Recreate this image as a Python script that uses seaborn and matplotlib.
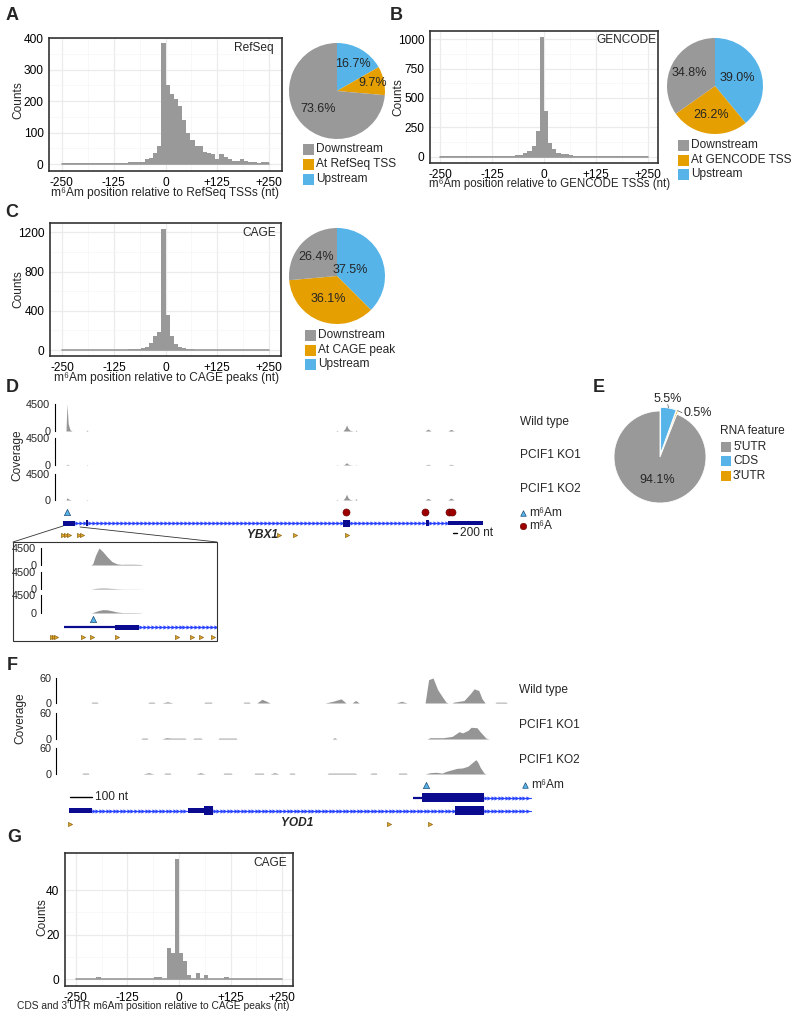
import numpy as np
import pandas as pd
import matplotlib
matplotlib.use('Agg')
import matplotlib.pyplot as plt
from matplotlib.patches import Rectangle
import seaborn as sns

sns.set_style('white')
plt.rcParams['font.family'] = ['Liberation Sans', 'DejaVu Sans']

# ---------------- data ----------------
bin_edges = np.arange(-250, 251, 10)
bin_mid = bin_edges[:-1] + 5

refseq_counts = [2, 2, 3, 3, 4, 3, 3, 4, 4, 3, 3, 4, 4, 5,
                 4, 5, 8, 6, 6, 8, 15, 19, 36, 58, 384,
                 251, 223, 206, 185, 140, 98, 76, 57, 56, 39, 36, 32, 15, 31,
                 21, 17, 11, 11, 15, 9, 6, 8, 4, 6, 6]
gencode_counts = [3, 3, 4, 4, 4, 5, 4, 4, 4, 4, 5, 5, 5, 6, 6, 7, 8, 9,
                  11, 17, 28, 48, 94, 219, 1023,
                  389, 119, 65, 28, 26, 20, 11, 8, 7, 6,
                  5, 5, 4, 4, 4, 4, 3, 3, 3, 3, 3, 3, 3, 3, 3]
cage_counts = [3, 3, 3, 4, 4, 4, 4, 4, 4, 5, 4, 4, 5, 5, 5, 5, 6, 6, 7,
               17, 34, 68, 143, 187, 1231,
               357, 140, 61, 34, 17, 10, 8,
               5, 5, 5, 5, 4, 4, 4, 4, 4, 4, 4, 4, 4, 4, 4, 4, 4, 4]
cds_utr_counts = [0, 0, 0, 0, 0, 1, 0, 0, 0, 0, 0, 0, 0, 0, 0, 0, 0, 0, 0,
                  1, 1, 0, 14, 12, 54,
                  12, 8, 2, 0, 3, 0, 2, 0, 0, 0, 0, 1, 0, 0,
                  0, 0, 0, 0, 0, 0, 0, 0, 0, 0, 0]

pie_groups = ['Upstream', 'At TSS', 'Downstream']
refseq_pie = [16.7, 9.7, 73.6]
gencode_pie = [39.0, 26.2, 34.8]
cage_pie = [37.5, 36.1, 26.4]

rna_features = ['CDS', "3'UTR", "5'UTR"]
rna_pct = [5.5, 0.5, 94.1]

track_names = ['Wild type', 'PCIF1 KO1', 'PCIF1 KO2']

# YBX1 coverage (nt from gene start)
ybx1_pos = [-100, 150, 200, 260, 350, 450, 1150, 1200, 1250, 13650, 13700, 13750,
            14000, 14100, 14180, 14250, 14350, 14500, 14600, 14650, 14700,
            18100, 18250, 18400, 19250, 19400, 19550, 23000]
ybx1_wt = [0, 0, 4500, 1200, 200, 0, 0, 150, 0, 0, 120, 0,
           0, 400, 1000, 450, 120, 0, 0, 150, 0, 0, 320, 0, 0, 280, 0, 0]
ybx1_ko1 = [0, 0, 120, 60, 0, 0, 0, 60, 0, 0, 60, 0,
            0, 150, 400, 150, 50, 0, 0, 60, 0, 0, 120, 0, 0, 120, 0, 0]
ybx1_ko2 = [0, 0, 400, 200, 50, 0, 0, 80, 0, 0, 100, 0,
            0, 400, 1000, 400, 100, 0, 0, 250, 0, 0, 300, 0, 0, 350, 0, 0]
ybx1_m6am = [200]
ybx1_m6a = [14150, 18100, 19300, 19450]
ybx1_motifs = [0, 150, 300, 800, 950, 10800, 11600, 14200]

# YBX1 first-exon zoom
zoom_pos = [-130, 150, 160, 175, 195, 217, 240, 267, 295, 323, 334, 380, 423, 440, 850]
zoom_wt = [0, 0, 300, 2500, 4500, 3500, 2200, 900, 300, 150, 200, 200, 150, 0, 0]
zoom_ko1 = [0, 0, 60, 150, 220, 250, 230, 150, 80, 40, 30, 30, 20, 0, 0]
zoom_ko2 = [0, 0, 100, 350, 650, 850, 800, 550, 250, 120, 100, 100, 60, 0, 0]
zoom_m6am = [162]
zoom_motifs = [-67, -56, -45, 106, 156, 295, 629, 713, 763, 830]

# YOD1 coverage
yod1_wt_pos = [100, 105, 128, 132, 359, 364, 386, 391, 423, 448, 473, 614, 618, 647, 651,
               792, 796, 820, 824, 855, 878, 915, 1165, 1200, 1238, 1260, 1288, 1304, 1320,
               1488, 1513, 1538, 1620, 1636, 1656, 1677, 1702, 1715, 1725,
               1743, 1750, 1797, 1825, 1843, 1864, 1879, 1893, 1938, 1943, 1988, 1993]
yod1_wt = [0, 2, 2, 0, 0, 2, 2, 0, 0, 3, 0, 0, 2, 2, 0,
           0, 2, 2, 0, 0, 9, 0, 0, 4, 10, 0, 0, 6, 0,
           0, 4, 0, 0, 56, 60, 32, 12, 2, 0,
           0, 2, 6, 22, 34, 30, 10, 0, 0, 2, 2, 0]
yod1_ko1_pos = [328, 332, 355, 359, 423, 443, 464, 528, 532, 564, 568, 601, 605,
                678, 682, 760, 764, 1197, 1208, 1219,
                1629, 1643, 1702, 1743, 1775, 1790, 1815, 1829, 1856, 1870, 1897, 1911]
yod1_ko1 = [0, 2, 2, 0, 0, 3, 2, 2, 0, 0, 2, 2, 0,
            0, 2, 2, 0, 0, 3, 0,
            0, 3, 3, 6, 17, 14, 20, 27, 26, 17, 2, 0]
yod1_ko2_pos = [59, 63, 87, 91, 337, 362, 387, 432, 436, 460, 464, 578, 598, 619,
                701, 705, 738, 742, 842, 846, 883, 887, 915, 935, 955, 1001, 1005, 1024, 1028,
                1174, 1180, 1300, 1310, 1370, 1374, 1397, 1401, 1497, 1501, 1534, 1538,
                1620, 1643, 1670, 1697, 1715, 1743, 1765, 1790, 1815, 1829, 1843, 1852,
                1861, 1870, 1888, 1897]
yod1_ko2 = [0, 2, 2, 0, 0, 3, 0, 0, 2, 2, 0, 0, 3, 0,
            0, 2, 2, 0, 0, 2, 2, 0, 0, 3, 0, 0, 2, 2, 0,
            0, 2, 2, 0, 0, 2, 2, 0, 0, 2, 2, 0,
            0, 3, 4, 2, 6, 10, 13, 14, 18, 24, 30, 33, 26, 16, 2, 0]
yod1_m6am = [1624]
yod1_motifs = [5, 1456, 1643]

# ---------------- style ----------------
GRAY = '#999999'
ORANGE = '#E69F00'
SKY = '#56B4E9'
COV = '#959595'
NAVY = '#0B0B8F'
ABLUE = '#2A45FF'
MOTIF = '#E2A62A'
FS = 8.6       # labels, legends
FS_TICK = 8.6  # histogram tick labels
FS_PIE = 9
W, H = 800, 1018

fig = plt.figure(figsize=(8, 10.18), dpi=100)


def px_axes(x0, y0, x1, y1):
    return fig.add_axes([x0 / W, 1 - y1 / H, (x1 - x0) / W, (y1 - y0) / H])


ov = px_axes(0, 0, W, H)
ov.set_xlim(0, W)
ov.set_ylim(H, 0)
ov.axis('off')
ov.set_zorder(10)


def hist_panel(rect, counts, xlim, ylim, yticks):
    ax = px_axes(*rect)
    df = pd.DataFrame({'pos': bin_mid, 'n': counts})
    sns.histplot(data=df, x='pos', weights='n', binwidth=10, binrange=(-250, 250),
                 color=GRAY, alpha=1, linewidth=0, ax=ax)
    # zero-count bins still show as a flat grey line
    ax.plot([bin_edges[0], bin_edges[-1]], [0, 0], color=GRAY, lw=1.2, zorder=1.5)
    ax.set_xlim(xlim)
    ax.set_ylim(ylim)
    ax.set_xticks([-250, -125, 0, 125, 250])
    ax.set_xticklabels(['-250', '-125', '0', '+125', '+250'])
    ax.set_xticks([-187.5, -62.5, 62.5, 187.5], minor=True)
    ax.set_yticks(yticks)
    ax.set_yticks([(a + b) / 2 for a, b in zip(yticks[:-1], yticks[1:])], minor=True)
    ax.grid(which='major', color='#EBEBEB', lw=0.9)
    ax.grid(which='minor', color='#F5F5F5', lw=0.5)
    ax.set_axisbelow(True)
    ax.set_xlabel('')
    ax.set_ylabel('')
    for s in ax.spines.values():
        s.set_color('#333333')
        s.set_linewidth(1.2)
    ax.tick_params(which='major', length=3, width=0.8, color='#333333',
                   labelsize=FS_TICK, pad=1, labelcolor='black')
    ax.tick_params(which='minor', length=0)
    return ax


def pie_panel(cx, cy, r, values, colors, dists=None, texts=None, explode=None):
    m = 1.4
    ax = px_axes(cx - r * m, cy - r * m, cx + r * m, cy + r * m)
    wedges, _ = ax.pie(values, colors=colors, startangle=90, counterclock=False,
                       explode=explode, wedgeprops=dict(lw=0))
    ax.set_xlim(-m, m)
    ax.set_ylim(-m, m)
    if dists is not None:
        for w, d, t in zip(wedges, dists, texts):
            ang = np.deg2rad((w.theta1 + w.theta2) / 2)
            ax.text(d * np.cos(ang), d * np.sin(ang), t, ha='center', va='center',
                    fontsize=FS_PIE)
    return ax, wedges


def square_legend(x, ys, labels, colors, size=11):
    for y, lab, c in zip(ys, labels, colors):
        ov.add_patch(Rectangle((x, y - size / 2), size, size, color=c, lw=0))
        ov.text(x + size + 2, y, lab, va='center', ha='left', fontsize=FS)


def track(rect, xlim, pos, val, ymax):
    ax = px_axes(*rect)
    ax.axhline(0, color='#EDEDED', lw=0.8, zorder=0)
    ax.fill_between(pos, val, color=COV, lw=0)
    ax.set_xlim(xlim)
    ax.set_ylim(0, ymax)
    for s in ['top', 'right', 'bottom']:
        ax.spines[s].set_visible(False)
    ax.spines['left'].set_bounds(0, ymax)
    ax.spines['left'].set_color('black')
    ax.spines['left'].set_linewidth(0.8)
    ax.set_yticks([0, ymax])
    ax.set_yticklabels(['0', str(ymax)])
    ax.set_xticks([])
    ax.tick_params(axis='y', length=3, width=0.8, labelsize=7.8, pad=0.5)
    ax.patch.set_alpha(0)
    return ax


def gene_axes(rect, xlim):
    ax = px_axes(*rect)
    ax.set_xlim(xlim)
    ax.set_ylim(rect[3], rect[1])
    ax.axis('off')
    return ax


def draw_gene(ax, y, blocks, introns, step, lines=()):
    for a, b, h in blocks:
        ax.add_patch(Rectangle((a, y - h / 2), b - a, h, facecolor=NAVY, lw=0, zorder=3))
    for a, b in lines:
        ax.plot([a, b], [y, y], color=NAVY, lw=1.6, solid_capstyle='butt', zorder=3)
    for a, b in introns:
        ax.plot([a, b], [y, y], color=ABLUE, lw=0.8, zorder=2)
        xs = np.arange(a + step * 0.5, b, step)
        ax.plot(xs, [y] * len(xs), ls='none', marker='>', ms=3, color=ABLUE,
                mew=0, zorder=2)


def marks(ax, xs, y, kind):
    if kind == 'm6am':
        ax.scatter(xs, [y] * len(xs), marker='^', s=20, c=SKY, edgecolors='#1F4E79',
                   linewidths=0.5, zorder=5, clip_on=False)
    elif kind == 'm6a':
        ax.scatter(xs, [y] * len(xs), marker='o', s=26, c='#9E0000', edgecolors='#5A0000',
                   linewidths=0.4, zorder=5, clip_on=False)
    else:
        ax.scatter(xs, [y] * len(xs), marker='>', s=9, c=MOTIF, edgecolors='#7A5200',
                   linewidths=0.4, zorder=5, clip_on=False)


# ---------------- A, B, C: histograms + pies ----------------
pie_colors = [SKY, ORANGE, GRAY]

hist_panel((49, 38, 282, 171), refseq_counts, (-281, 281), (-22, 401), [0, 100, 200, 300, 400])
ov.text(274, 48, 'RefSeq', ha='right', va='center', fontsize=FS)
ov.text(165, 193, 'm\u2076Am position relative to RefSeq TSSs (nt)', ha='center', va='center', fontsize=FS)
ov.text(18, 100, 'Counts', rotation=90, ha='center', va='center', fontsize=FS)
pie_panel(337, 91, 48, refseq_pie, pie_colors, [0.66, 0.76, 0.54],
          ['%.1f%%' % v for v in refseq_pie])
square_legend(303, [149, 164, 179], ['Downstream', 'At RefSeq TSS', 'Upstream'], [GRAY, ORANGE, SKY])

hist_panel((430, 31, 658, 163), gencode_counts, (-274, 274), (-54, 1071), [0, 250, 500, 750, 1000])
ov.text(656, 40, 'GENCODE', ha='right', va='center', fontsize=FS)
ov.text(550, 184, 'm\u2076Am position relative to GENCODE TSSs (nt)', ha='center', va='center', fontsize=8.3)
ov.text(398, 97, 'Counts', rotation=90, ha='center', va='center', fontsize=FS)
pie_panel(715, 86, 48, gencode_pie, pie_colors, [0.5, 0.6, 0.6],
          ['%.1f%%' % v for v in gencode_pie])
square_legend(678, [145, 160, 174], ['Downstream', 'At GENCODE TSS', 'Upstream'], [GRAY, ORANGE, SKY])

hist_panel((50, 223, 281, 356), cage_counts, (-280, 280), (-61, 1295), [0, 400, 800, 1200])
ov.text(276, 233, 'CAGE', ha='right', va='center', fontsize=FS)
ov.text(167, 378, 'm\u2076Am position relative to CAGE peaks (nt)', ha='center', va='center', fontsize=FS)
ov.text(18, 289, 'Counts', rotation=90, ha='center', va='center', fontsize=FS)
pie_panel(337, 276, 48, cage_pie, pie_colors, [0.3, 0.5, 0.6],
          ['%.1f%%' % v for v in cage_pie])
square_legend(305, [335, 350, 364], ['Downstream', 'At CAGE peak', 'Upstream'], [GRAY, ORANGE, SKY])

# ---------------- D: YBX1 tracks ----------------
d_xlim = (-400, 23500)
for (y0, y1), vals in zip([(404, 431), (438, 465), (474, 500)], [ybx1_wt, ybx1_ko1, ybx1_ko2]):
    track((55, y0, 533, y1), d_xlim, ybx1_pos, vals, 4500)
for y, name in zip([422, 455, 489], track_names):
    ov.text(520, y, name, ha='left', va='center', fontsize=FS)
ov.text(17, 455, 'Coverage', rotation=90, ha='center', va='center', fontsize=FS)

gd = gene_axes((55, 505, 533, 545), d_xlim)
draw_gene(gd, 523,
          [(0, 600, 5), (1150, 1250, 6), (14000, 14350, 7), (18150, 18300, 6), (19250, 21000, 4)],
          [(600, 1150), (1250, 14000), (14350, 18150), (18300, 19250)], 200)
marks(gd, ybx1_m6am, 512, 'm6am')
marks(gd, ybx1_m6a, 512, 'm6a')
marks(gd, ybx1_motifs, 535, 'motif')
gd.plot([19500, 19700], [533, 533], color='black', lw=1)
gd.text(19850, 533, '200 nt', ha='left', va='center', fontsize=FS)
gd.text(9950, 535, 'YBX1', ha='center', va='center', fontsize=FS,
        fontweight='bold', fontstyle='italic')

ov.scatter([523], [513], marker='^', s=16, c=SKY, edgecolors='#1F4E79', linewidths=0.5)
ov.text(529, 513, 'm\u2076Am', ha='left', va='center', fontsize=FS)
ov.scatter([523], [526], marker='o', s=22, c='#9E0000', edgecolors='#5A0000', linewidths=0.4)
ov.text(529, 526, 'm\u2076A', ha='left', va='center', fontsize=FS)

# zoomed view of the first exon
ov.add_patch(Rectangle((13, 542), 204, 99, fill=False, edgecolor='#333333', lw=0.8))
ov.plot([63, 13], [526, 542], color='#333333', lw=0.6)
ov.plot([80, 217], [527, 542], color='#333333', lw=0.6)
z_xlim = (-128, 852)
for (y0, y1), vals in zip([(548, 565), (572, 589), (595, 613)], [zoom_wt, zoom_ko1, zoom_ko2]):
    track((41, y0, 217, y1), z_xlim, zoom_pos, vals, 4500)
gz = gene_axes((41, 614, 217, 641), z_xlim)
draw_gene(gz, 627, [(284, 418, 5)], [(418, 852)], 22, lines=[(0, 284)])
marks(gz, zoom_m6am, 619, 'm6am')
marks(gz, zoom_motifs, 637, 'motif')

# ---------------- E: RNA feature pie ----------------
ax_e, wedges_e = pie_panel(660, 457, 46, rna_pct, [SKY, ORANGE, GRAY], explode=[0.08, 0.08, 0])
for w in wedges_e:
    w.set_edgecolor('white')
    w.set_linewidth(0.6)
for w, (tx, ty), t, ha in zip(wedges_e[:2], [(0.17, 1.27), (0.5, 0.96)],
                              ['%.1f%%' % v for v in rna_pct[:2]], ['center', 'left']):
    ang = np.deg2rad((w.theta1 + w.theta2) / 2)
    ex, ey = 1.08 * np.cos(ang), 1.08 * np.sin(ang)
    if ha == 'center':
        ax_e.plot([ex, tx], [ey, ty - 0.13], color='#555555', lw=0.5)
    else:
        ax_e.plot([ex, tx - 0.02], [ey, ty], color='#555555', lw=0.5)
    ax_e.text(tx, ty, t, ha=ha, va='center', fontsize=FS_PIE)
ax_e.text(-0.07, -0.5, '%.1f%%' % rna_pct[2], ha='center', va='center', fontsize=FS_PIE)
ov.text(720, 431, 'RNA feature', ha='left', va='center', fontsize=FS)
square_legend(721, [447, 461, 476], ["5'UTR", 'CDS', "3'UTR"], [GRAY, SKY, ORANGE], size=10)

# ---------------- F: YOD1 tracks ----------------
f_xlim = (-59, 2088)
for (y0, y1), p, vals in zip([(678, 703), (713, 739), (748, 774)],
                             [yod1_wt_pos, yod1_ko1_pos, yod1_ko2_pos],
                             [yod1_wt, yod1_ko1, yod1_ko2]):
    track((56, y0, 528, y1), f_xlim, p, vals, 60)
for y, name in zip([690, 725, 760], track_names):
    ov.text(519, y, name, ha='left', va='center', fontsize=FS)
ov.text(20, 718, 'Coverage', rotation=90, ha='center', va='center', fontsize=FS)

gf = gene_axes((56, 780, 536, 830), (-59, 2125))
draw_gene(gf, 798, [(1606, 1888, 9)], [(1888, 2102)], 16, lines=[(1565, 1606)])
draw_gene(gf, 811, [(0, 105, 5), (541, 614, 5), (614, 655, 9), (1756, 1888, 9)],
          [(105, 541), (655, 1756), (1888, 2102)], 16)
marks(gf, yod1_m6am, 785, 'm6am')
marks(gf, yod1_motifs, 824, 'motif')
gf.plot([5, 105], [797, 797], color='black', lw=1)
gf.text(118, 797, '100 nt', ha='left', va='center', fontsize=FS)
gf.text(1037, 823, 'YOD1', ha='center', va='center', fontsize=FS,
        fontweight='bold', fontstyle='italic')
ov.scatter([525], [785], marker='^', s=16, c=SKY, edgecolors='#1F4E79', linewidths=0.5)
ov.text(531, 785, 'm\u2076Am', ha='left', va='center', fontsize=FS)

# ---------------- G: CDS / 3'UTR histogram ----------------
hist_panel((65, 853, 293, 986), cds_utr_counts, (-276, 276), (-3, 56.6), [0, 20, 40])
ov.text(287, 863, 'CAGE', ha='right', va='center', fontsize=FS)
ov.text(153, 1006, "CDS and 3'UTR m6Am position relative to CAGE peaks (nt)",
        ha='center', va='center', fontsize=7.4)
ov.text(42, 917, 'Counts', rotation=90, ha='center', va='center', fontsize=FS)

# panel letters
for lab, x, y in [('A', 12, 15), ('B', 396, 15), ('C', 12, 212), ('D', 12, 388),
                  ('E', 599, 388), ('F', 12, 665), ('G', 14, 838)]:
    ov.text(x, y, lab, ha='center', va='center', fontsize=13, fontweight='bold')

fig.savefig('out.png', dpi=100)
